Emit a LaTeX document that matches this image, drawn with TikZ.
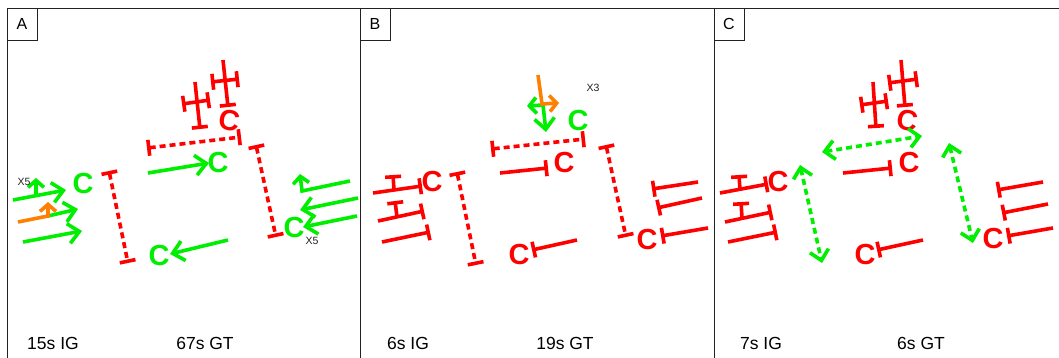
\documentclass[tikz,border=0pt]{standalone}
\usepackage{fontspec}
\setmainfont{Liberation Sans}
\usepackage{tikz}
\usetikzlibrary{arrows.meta}
\definecolor{scenered}{HTML}{FF0000}
\definecolor{scenegreen}{HTML}{00EE00}
\definecolor{sceneorange}{HTML}{FF8000}
\definecolor{framegray}{HTML}{222222}

\begin{document}
\begin{tikzpicture}[x=1pt,y=-1pt,
  rd/.style={draw=scenered,line width=3.6pt},
  gn/.style={draw=scenegreen,line width=3.6pt},
  og/.style={draw=sceneorange,line width=3.6pt},
  tee/.style={-{Bar[width=16pt]}},
  ibar/.style={{Bar[width=16pt]}-{Bar[width=16pt]}},
  dsh/.style={dash pattern=on 6pt off 4pt},
  barb/.style={-{Straight Barb[length=11pt,width=20pt]}},
  sbarb/.style={-{Straight Barb[length=7pt,width=16pt]}},
  dbarb/.style={{Straight Barb[length=10pt,width=19pt]}-{Straight Barb[length=10pt,width=19pt]}},
  rc/.style={text=scenered,inner sep=0pt,font=\fontsize{29}{29}\selectfont\bfseries},
  gc/.style={text=scenegreen,inner sep=0pt,font=\fontsize{29}{29}\selectfont\bfseries},
  mult/.style={text=framegray,inner sep=0pt,font=\fontsize{10.5}{11}\selectfont},
  caption/.style={inner sep=0pt,font=\fontsize{17.5}{18}\selectfont},
  tag/.style={draw=framegray,line width=0.8pt,minimum width=30pt,minimum height=32pt,
    inner sep=0pt,font=\fontsize{16}{16}\selectfont}]
  \useasboundingbox (0,0) rectangle (1059,358);
  % frames
  \draw[framegray,line width=0.9pt] (7,358) -- (7,8) -- (1059,8);
  \draw[framegray,line width=0.9pt] (360,8) -- (360,358);
  \draw[framegray,line width=0.9pt] (714,8) -- (714,358);
  \node[tag] (tagA) at (22,24) {A};
  \node[tag] (tagB) at (375,24) {B};
  \node[tag] (tagC) at (729,24) {C};

  % panel A
  \draw[rd,tee] (195,82) -- (200,129);
  \draw[rd,ibar] (182,104) -- (210,100);
  \draw[rd,tee] (223,60) -- (228,107);
  \draw[rd,ibar] (211,82) -- (239,79);
  \node[rc,rotate=-10] (aTop) at (230,120) {C};
  \draw[rd,ibar,dsh] (147,148) -- (241,137);
  \draw[gn,barb] (148,173) -- (209,163);
  \node[gc] (aMid) at (218,163) {C};
  \draw[rd,ibar,dsh] (256,145) -- (276,237);
  \draw[rd,ibar,dsh] (109,171) -- (128,263);
  \node[gc] (aLow) at (159,256) {C};
  \draw[gn,barb] (228,240) -- (170,254);
  \node[gc] (aRight) at (294,228) {C};
  \draw[gn,sbarb] (350,181) -- (302,191) -- (300,174);
  \draw[gn,barb] (358,198) -- (300,210);
  \draw[gn,barb] (357,216) -- (303,227);
  \node[mult] (aX5r) at (312,241) {X5};
  \node[gc] (aLeft) at (83,184) {C};
  \draw[gn,barb] (13,200) -- (66,190);
  \draw[gn,sbarb] (36,195) -- (36,178);
  \draw[gn,barb] (48,216) -- (78,209);
  \draw[og,sbarb] (18,222) -- (48,216) -- (48,202);
  \draw[gn,barb] (23,242) -- (82,231);
  \node[mult] (aX5l) at (24,182) {X5};
  \node[caption] (aIG) at (53,343) {15s IG};
  \node[caption] (aGT) at (205,343) {67s GT};

  % panel B
  \draw[gn,sbarb] (543,105) -- (527,106);
  \draw[gn,barb] (543,105) -- (546,132);
  \draw[og,sbarb] (538,75) -- (542,104) -- (559,103);
  \node[mult] (bX3) at (593,88) {X3};
  \node[gc] (bTop) at (578,121) {C};
  \draw[rd,ibar,dsh] (491,149) -- (585,139);
  \draw[rd,tee] (500,173) -- (548,168);
  \node[rc] (bMid) at (564,163) {C};
  \draw[rd,ibar,dsh] (606,145) -- (626,237);
  \node[rc] (bRight) at (647,240) {C};
  \draw[rd,tee] (698,182) -- (652,189);
  \draw[rd,tee] (702,198) -- (657,208);
  \draw[rd,tee] (708,228) -- (661,236);
  \draw[rd,tee] (373,193) -- (422,186);
  \draw[rd,tee] (394,190) -- (393,175);
  \node[rc] (bLeft) at (432,182) {C};
  \draw[rd,tee] (378,221) -- (424,211);
  \draw[rd,tee] (397,217) -- (395,201);
  \draw[rd,tee] (382,242) -- (430,232);
  \draw[rd,ibar,dsh] (457,172) -- (476,265);
  \node[rc] (bLow) at (519,255) {C};
  \draw[rd,tee] (577,240) -- (532,250);
  \node[caption] (bIG) at (408,343) {6s IG};
  \node[caption] (bGT) at (565,343) {19s GT};

  % panel C
  \draw[rd,tee] (873,82) -- (876,128);
  \draw[rd,ibar] (860,105) -- (888,101);
  \draw[rd,tee] (901,60) -- (905,107);
  \draw[rd,ibar] (888,83) -- (918,79);
  \node[rc,rotate=-10] (cTop) at (908,120) {C};
  \draw[gn,dbarb,dsh] (822,152) -- (922,136);
  \draw[rd,tee] (843,173) -- (892,168);
  \node[rc] (cMid) at (909,163) {C};
  \draw[gn,dbarb,dsh] (949,143) -- (973,243);
  \node[rc] (cRight) at (993,239) {C};
  \draw[rd,tee] (1043,182) -- (997,190);
  \draw[rd,tee] (1048,204) -- (1002,213);
  \draw[rd,tee] (1053,228) -- (1007,236);
  \draw[rd,tee] (720,193) -- (768,184);
  \draw[rd,tee] (740,190) -- (739,175);
  \node[rc] (cLeft) at (778,182) {C};
  \draw[rd,tee] (725,222) -- (772,212);
  \draw[rd,tee] (742,218) -- (741,202);
  \draw[rd,tee] (728,242) -- (777,232);
  \draw[gn,dbarb,dsh] (800,165) -- (822,263);
  \node[rc] (cLow) at (865,255) {C};
  \draw[rd,tee] (923,240) -- (877,250);
  \node[caption] (cIG) at (761,343) {7s IG};
  \node[caption] (cGT) at (921,343) {6s GT};
\end{tikzpicture}
\end{document}
